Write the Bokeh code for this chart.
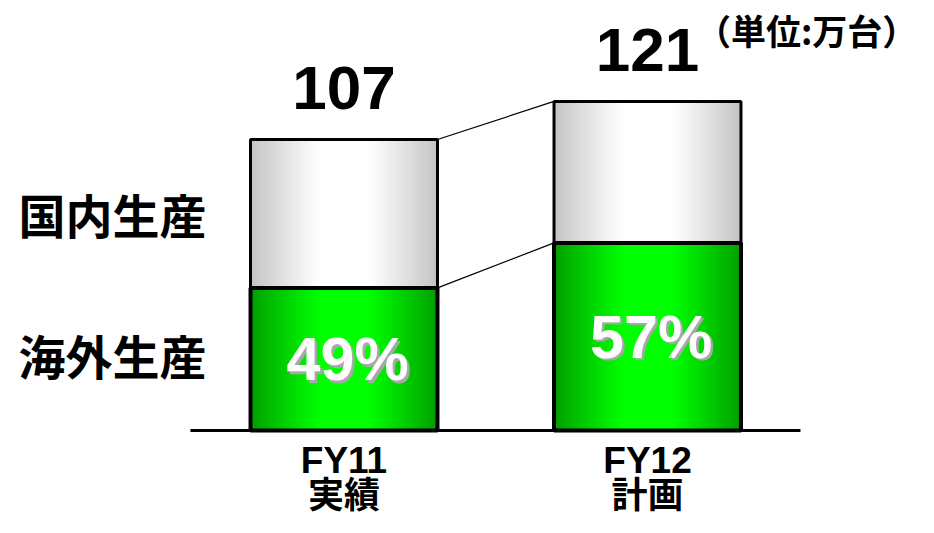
import numpy as np
from bokeh.plotting import figure
from bokeh.models import ColumnDataSource, Range1d
from bokeh.core.properties import value
from bokeh.embed import file_html
from bokeh.resources import INLINE

# ---- data ----
categories = ["FY11", "FY12"]
sub_labels = ["実績", "計画"]
totals = [107, 121]
overseas_share = [49, 57]          # % overseas production
series_labels = ["国内生産", "海外生産"]
unit_label = "（単位:万台）"

xpos = [1, 2]
overseas = [t * s / 100.0 for t, s in zip(totals, overseas_share)]

# ---- figure ----
W, H = 918, 517
KX, KY = 303.5, 2.72             # px per unit
x0 = -0.1318
base_px = 430                     # baseline from top of figure
x1 = x0 + W / KX
p = figure(width=W, height=H, output_backend="svg", toolbar_location=None,
           x_range=Range1d(x0, x1),
           y_range=Range1d(-(H - base_px) / KY, base_px / KY),
           min_border=0)
p.axis.visible = False
p.grid.visible = False
p.outline_line_color = None
p.background_fill_color = "white"

bw = 0.616
n = 60

def grad_strips(bottoms, tops, edge, center):
    L, R, B, T, C = [], [], [], [], []
    for xc, b, t in zip(xpos, bottoms, tops):
        for i in range(n):
            u = (i + 0.5) / n
            f = min(1.0, 1.35 * (1 - abs(2 * u - 1)))
            f = f ** 0.9
            col = tuple(int(round(e + (c - e) * f)) for e, c in zip(edge, center))
            left = xc - bw / 2 + i * bw / n
            L.append(left); R.append(min(left + bw / n * 1.4, xc + bw / 2))
            B.append(b); T.append(t)
            C.append("#%02x%02x%02x" % col)
    return ColumnDataSource(dict(left=L, right=R, bottom=B, top=T, color=C))

gray_src = grad_strips(overseas, totals, (194, 194, 194), (255, 255, 255))
green_src = grad_strips([0, 0], overseas, (0, 156, 0), (0, 255, 0))
p.quad(left="left", right="right", bottom="bottom", top="top", fill_color="color",
       line_color=None, source=gray_src)
p.quad(left="left", right="right", bottom="bottom", top="top", fill_color="color",
       line_color=None, source=green_src)

bar_src = ColumnDataSource(dict(x=xpos, total=totals, overseas=overseas,
                                left=[x - bw / 2 for x in xpos],
                                right=[x + bw / 2 for x in xpos],
                                zero=[0, 0]))
p.quad(left="left", right="right", bottom="overseas", top="total", fill_color=None,
       line_color="black", line_width=3, source=bar_src)
p.quad(left="left", right="right", bottom="zero", top="overseas", fill_color=None,
       line_color="black", line_width=4, source=bar_src)

# connector lines
p.segment(x0=[xpos[0] + bw / 2] * 2, y0=[totals[0], overseas[0]],
          x1=[xpos[1] - bw / 2] * 2, y1=[totals[1], overseas[1]],
          line_color="black", line_width=1.2)

# baseline
p.segment(x0=[0.494], y0=[0], x1=[2.504], y1=[0], line_color="black", line_width=3)

num_font = value("Liberation Sans")
cjk_font = value("Noto Sans CJK JP")

# totals
p.text(x=xpos, y=[t + 18.8 for t in totals], text=[str(t) for t in totals],
       text_font=num_font, text_font_style="bold", text_font_size="62px",
       text_align="center", text_baseline="middle", text_color="black")

# percentages with shadow
pct = [f"{s}%" for s in overseas_share]
pct_y = [o / 2 for o in overseas]
p.text(x=[x + 0.012 for x in xpos], y=pct_y, text=pct, x_offset=2.5, y_offset=2.5,
       text_font=num_font, text_font_style="bold", text_font_size="61px",
       text_align="center", text_baseline="middle", text_color="#a8a8a8")
p.text(x=[x + 0.012 for x in xpos], y=pct_y, text=pct,
       text_font=num_font, text_font_style="bold", text_font_size="61px",
       text_align="center", text_baseline="middle", text_color="white")

# left series labels
p.text(x=[0.2372, 0.2372], y=[79.6, 28.0], text=series_labels,
       text_font=cjk_font, text_font_style="bold", text_font_size="47px",
       text_align="center", text_baseline="middle", text_color="black")

# unit label
p.text(x=[x1 - 0.004], y=[147.4], text=[unit_label],
       text_font=cjk_font, text_font_style="bold", text_font_size="35px",
       text_align="right", text_baseline="middle", text_color="black")

# category labels
p.text(x=xpos, y=[-11.03, -11.03], text=categories,
       text_font=num_font, text_font_style="bold", text_font_size="37px",
       text_align="center", text_baseline="middle", text_color="black")
p.text(x=xpos, y=[-22.43, -22.43], text=sub_labels,
       text_font=cjk_font, text_font_style="bold", text_font_size="36px",
       text_align="center", text_baseline="middle", text_color="black")

open("out.html", "w").write(file_html(p, INLINE))
